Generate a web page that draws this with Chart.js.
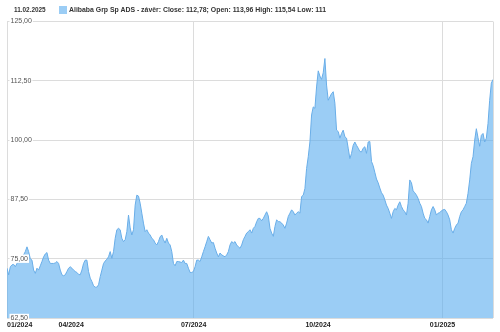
<!DOCTYPE html>
<html>
<head>
<meta charset="utf-8">
<script src="https://cdn.jsdelivr.net/npm/chart.js@4/dist/chart.umd.min.js"></script>
<style>
  html,body{margin:0;padding:0;background:#fff;}
  #wrap{position:relative;width:500px;height:332px;}
  #hdr{position:absolute;left:0;top:0;width:500px;height:20px;font-family:'Liberation Sans',Arial,sans-serif;font-weight:bold;color:#333;z-index:2;}
  #hdr .date{position:absolute;left:14px;top:6px;font-size:6.4px;}
  #hdr .box{position:absolute;left:59px;top:6px;width:8px;height:8px;background:rgba(88,172,238,0.6);}
  #hdr .txt{position:absolute;left:69px;top:6px;white-space:nowrap;font-size:6.9px;}
  #cv{position:absolute;left:0;top:0;}
</style>
</head>
<body>
<div id="wrap">
  <canvas id="cv" width="500" height="332"></canvas>
  <div id="hdr"><span class="date" id="hdrDate"></span><span class="box"></span><span class="txt" id="hdrTxt"></span></div>
</div>
<script>
const lastDate = '11.02.2025';
const seriesName = 'Alibaba Grp Sp ADS - závěr';
const quote = {close: '112,78', open: '113,96', high: '115,54', low: '111'};

// trading-day axis (12.02.2024 – 11.02.2025)
const tradingDaysTotal = 251;
const monthLabels = ['01/2024', '04/2024', '07/2024', '10/2024', '01/2025'];
const monthTradingDay = [0, 33, 96, 160, 224];
const gridMonthLabels = ['01/2024', '07/2024', '01/2025'];

const yTicks = [62.5, 75, 87.5, 100, 112.5, 125];

const closeValues = [
 73.0,71.6,73.3,73.7,73.8,73.3,74.0,74.4,75.6,75.6,75.8,76.5,77.5,76.5,75.0,74.7,72.6,71.9,73.0,72.6,
 73.5,74.4,75.4,76.0,76.3,74.7,74.0,74.0,74.0,74.1,74.4,74.0,72.6,71.6,71.4,71.6,72.3,73.0,73.3,73.0,
 72.6,72.3,72.1,71.7,71.6,72.6,74.0,74.7,74.7,72.3,70.9,70.2,69.3,69.0,69.0,69.5,71.2,72.6,74.0,74.5,
 74.9,75.4,76.5,75.1,76.5,79.3,81.1,81.4,81.1,79.3,78.6,79.0,80.7,84.2,81.5,80.0,81.1,86.3,88.4,88.2,
 86.7,84.6,82.5,80.7,81.1,80.4,80.0,79.3,79.0,78.3,77.9,78.6,79.6,80.0,79.0,78.3,79.3,78.3,77.9,76.5,
 74.0,73.5,74.4,74.4,74.3,74.2,74.7,74.0,74.0,73.0,72.1,72.1,72.3,73.3,74.7,
 74.7,74.4,75.4,76.5,77.5,78.6,79.7,79.0,78.3,78.4,77.2,76.2,75.4,76.2,75.8,75.6,75.4,75.8,76.5,77.9,
 78.6,78.3,78.6,77.9,77.5,77.2,77.9,79.0,79.7,80.4,80.7,81.1,80.4,81.4,81.8,82.8,83.5,
 83.5,83.0,83.5,84.2,84.9,84.0,81.4,80.4,79.7,81.8,83.2,82.8,82.8,82.5,82.1,81.4,82.5,83.9,84.6,85.3,
 84.9,84.2,84.6,84.9,84.6,88.1,88.4,89.8,94.0,96.5,99.6,105.3,107.0,106.7,111.2,114.6,113.5,112.8,114.2,117.2,
 111.6,108.4,109.1,109.8,110.2,107.8,102.1,101.8,
 100.4,101.4,102.1,100.7,100.4,98.3,96.1,97.2,98.9,99.6,98.9,98.3,97.6,97.5,98.3,98.6,97.2,99.6,99.7,95.5,
 94.6,93.2,91.8,91.0,89.9,88.9,88.4,87.4,86.3,85.6,84.6,83.5,84.9,85.6,85.3,86.3,87.0,86.0,85.3,84.9,
 84.2,86.7,91.6,91.0,89.3,88.9,88.4,87.7,86.7,
 86.0,84.6,83.5,83.2,82.5,83.9,85.3,86.0,85.3,84.2,84.6,84.7,85.1,85.3,85.4,84.9,84.2,83.2,81.1,80.4,
 81.4,82.1,82.5,83.9,84.9,85.3,86.0,86.7,88.8,91.6,95.1,96.5,100.0,102.4,100.5,98.7,101.0,101.4,99.6,100.4,
 103.5,108.4,112.0,112.78
];

document.getElementById('hdrDate').textContent = lastDate;
document.getElementById('hdrTxt').textContent = seriesName + ': Close: ' + quote.close + '; Open: ' + quote.open + ' High: ' + quote.high + ' Low: ' + quote.low;

const lastIdx = tradingDaysTotal - 1;
const points = closeValues.map((v, i) => ({x: i * lastIdx / (closeValues.length - 1), y: v}));
const gridDays = gridMonthLabels.map(l => monthTradingDay[monthLabels.indexOf(l)]).concat([lastIdx]);
const fontFam = "'Liberation Sans', Arial, sans-serif";

new Chart(document.getElementById('cv'), {
  type: 'line',
  data: {
    datasets: [{
      label: seriesName,
      data: points,
      borderColor: '#6aaee8',
      borderWidth: 1,
      backgroundColor: 'rgba(88,172,238,0.6)',
      fill: 'start',
      pointRadius: 0,
      tension: 0
    }]
  },
  options: {
    responsive: false,
    animation: false,
    layout: {padding: {left: 0, right: 7, top: 21.5, bottom: 0}},
    plugins: {legend: {display: false}, tooltip: {enabled: false}},
    scales: {
      x: {
        type: 'linear',
        min: 0,
        max: lastIdx,
        afterBuildTicks: s => { s.ticks = monthTradingDay.map(v => ({value: v})).concat([{value: lastIdx}]); },
        grid: {
          drawTicks: false,
          color: ctx => (ctx.tick && gridDays.includes(ctx.tick.value)) ? '#dcdcdc' : 'rgba(0,0,0,0)'
        },
        border: {display: false},
        ticks: {
          autoSkip: false,
          maxRotation: 0,
          align: 'inner',
          padding: 3.5,
          color: '#222',
          font: {family: fontFam, size: 7, weight: 'bold', lineHeight: 1},
          callback: v => { const k = monthTradingDay.indexOf(v); return k >= 0 ? monthLabels[k] : ''; }
        }
      },
      y: {
        min: yTicks[0],
        max: yTicks[yTicks.length - 1],
        afterBuildTicks: s => { s.ticks = yTicks.map(v => ({value: v})); },
        grid: {drawTicks: false, color: '#dcdcdc'},
        border: {display: false},
        ticks: {
          mirror: true,
          padding: 3.5,
          z: 1,
          showLabelBackdrop: true,
          backdropColor: '#ffffff',
          backdropPadding: {x: 1, y: 0},
          color: '#555',
          font: {family: fontFam, size: 7},
          callback: v => v.toFixed(2).replace('.', ',')
        }
      }
    }
  }
});
</script>
</body>
</html>
